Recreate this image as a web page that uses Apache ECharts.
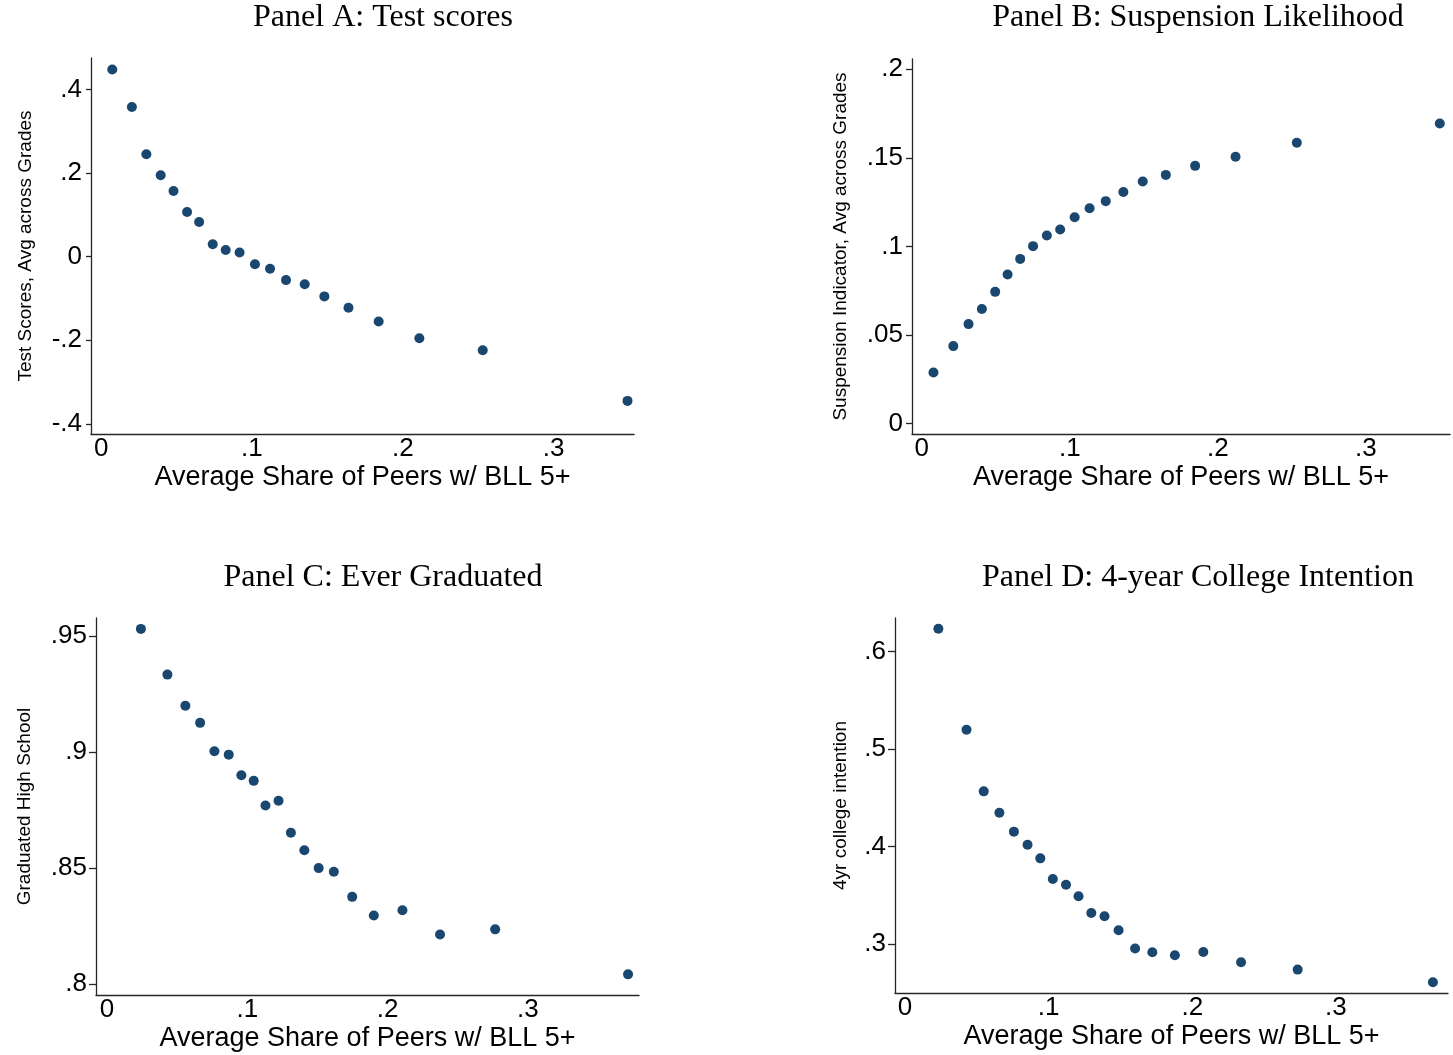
<!DOCTYPE html>
<html>
<head>
<meta charset="utf-8">
<title>Peer lead exposure and student outcomes</title>
<script src="https://cdn.jsdelivr.net/npm/echarts@6/dist/echarts.min.js"></script>
<style>
  html, body { margin: 0; padding: 0; background: #ffffff; }
  #chart { width: 1453px; height: 1055px; }
</style>
</head>
<body>
<div id="chart"></div>
<script>
// Binned scatter data: average share of peers with BLL 5+ (x) vs outcome (y)

// Panel A: Test scores
const testX = [0.0074, 0.0204, 0.0300, 0.0395, 0.0480, 0.0570, 0.0650, 0.0740, 0.0826, 0.0918,
               0.1020, 0.1120, 0.1226, 0.1350, 0.1480, 0.1640, 0.1840, 0.2110, 0.2530, 0.3490];
const testY = [0.448, 0.358, 0.245, 0.195, 0.157, 0.107, 0.083, 0.030, 0.016, 0.010,
               -0.018, -0.029, -0.056, -0.066, -0.095, -0.122, -0.155, -0.195, -0.224, -0.345];

// Panel B: Suspension likelihood
const suspX = [0.0079, 0.0213, 0.0316, 0.0406, 0.0496, 0.0580, 0.0665, 0.0752, 0.0845, 0.0935,
               0.1033, 0.1134, 0.1243, 0.1362, 0.1493, 0.1649, 0.1847, 0.2120, 0.2534, 0.3500];
const suspY = [0.0289, 0.0438, 0.0562, 0.0647, 0.0744, 0.0842, 0.0930, 0.1002, 0.1062, 0.1096,
               0.1165, 0.1216, 0.1256, 0.1308, 0.1367, 0.1404, 0.1455, 0.1506, 0.1585, 0.1694];

// Panel C: Ever graduated
const gradX = [0.0242, 0.0431, 0.0559, 0.0664, 0.0766, 0.0868, 0.0958, 0.1046, 0.1130, 0.1223,
               0.1311, 0.1407, 0.1509, 0.1617, 0.1748, 0.1902, 0.2106, 0.2374, 0.2767, 0.3714];
const gradY = [0.9532, 0.9335, 0.9201, 0.9127, 0.9005, 0.8990, 0.8901, 0.8877, 0.8771, 0.8791,
               0.8653, 0.8578, 0.8501, 0.8485, 0.8377, 0.8297, 0.8319, 0.8215, 0.8237, 0.8043];

// Panel D: 4-year college intention
const collX = [0.0232, 0.0428, 0.0548, 0.0657, 0.0758, 0.0853, 0.0942, 0.1029, 0.1121, 0.1208,
               0.1297, 0.1389, 0.1487, 0.1602, 0.1722, 0.1879, 0.2077, 0.2340, 0.2734, 0.3676];
const collY = [0.6232, 0.5197, 0.4565, 0.4346, 0.4152, 0.4018, 0.3878, 0.3667, 0.3608, 0.3489,
               0.3318, 0.3284, 0.3140, 0.2953, 0.2915, 0.2884, 0.2918, 0.2812, 0.2737, 0.2608];

// Tick values and their labels
const xTicks = [0, 0.1, 0.2, 0.3];
const xTickLabels = ['0', '.1', '.2', '.3'];
const yTicksA = [-0.4, -0.2, 0, 0.2, 0.4];
const yTickLabelsA = ['-.4', '-.2', '0', '.2', '.4'];
const yTicksB = [0, 0.05, 0.1, 0.15, 0.2];
const yTickLabelsB = ['0', '.05', '.1', '.15', '.2'];
const yTicksC = [0.8, 0.85, 0.9, 0.95];
const yTickLabelsC = ['.8', '.85', '.9', '.95'];
const yTicksD = [0.3, 0.4, 0.5, 0.6];
const yTickLabelsD = ['.3', '.4', '.5', '.6'];

// Titles
const panelTitles = ['Panel A: Test scores', 'Panel B: Suspension Likelihood',
                     'Panel C: Ever Graduated', 'Panel D: 4-year College Intention'];
const xTitle = 'Average Share of Peers w/ BLL 5+';
const yTitles = ['Test Scores, Avg across Grades', 'Suspension Indicator, Avg across Grades',
                 'Graduated High School', '4yr college intention'];

const SANS = '"Liberation Sans", Arial, sans-serif';
const SERIF = '"Liberation Serif", "Times New Roman", serif';
const NAVY = '#1a476f';
const AXIS_COLOR = '#262626';

function labelFor(ticks, labels) {
  return function (v) {
    for (let i = 0; i < ticks.length; i++) {
      if (Math.abs(ticks[i] - v) < 1e-9) return labels[i];
    }
    return '';
  };
}

function pairs(xs, ys) {
  return xs.map((x, i) => [x, ys[i]]);
}

// Panel layout: plot boxes, axis ranges, name gaps
const panels = [
  { grid: { left: 91, top: 58, width: 543, height: 376 },
    x: [-0.0067, 0.3533], y: [-0.4242, 0.4754],
    yTicks: yTicksA, yLabels: yTickLabelsA, yGap: 56, tickLen: 5, data: pairs(testX, testY),
    titleX: 383, titleY: 2 },
  { grid: { left: 912, top: 59, width: 538, height: 375 },
    x: [-0.0066, 0.3569], y: [-0.0058, 0.2058],
    yTicks: yTicksB, yLabels: yTickLabelsB, yGap: 62, tickLen: 6, data: pairs(suspX, suspY),
    titleX: 1198, titleY: 2 },
  { grid: { left: 96, top: 618, width: 543, height: 377 },
    x: [-0.0078, 0.3792], y: [0.7954, 0.9579],
    yTicks: yTicksC, yLabels: yTickLabelsC, yGap: 62, tickLen: 7, data: pairs(gradX, gradY),
    titleX: 383, titleY: 562 },
  { grid: { left: 895, top: 618, width: 553, height: 375 },
    x: [-0.0070, 0.3781], y: [0.2497, 0.6343],
    yTicks: yTicksD, yLabels: yTickLabelsD, yGap: 45, tickLen: 7, data: pairs(collX, collY),
    titleX: 1198, titleY: 562 }
];

const option = {
  backgroundColor: '#ffffff',
  animation: false,
  title: panels.map((p, i) => ({
    text: panelTitles[i],
    left: p.titleX,
    top: p.titleY,
    textAlign: 'center',
    padding: 0,
    textStyle: { fontFamily: SERIF, fontSize: 32, fontWeight: 'normal', color: '#000' }
  })),
  grid: panels.map(p => Object.assign({ containLabel: false }, p.grid)),
  xAxis: panels.map((p, i) => ({
    type: 'value',
    gridIndex: i,
    min: p.x[0],
    max: p.x[1],
    name: xTitle,
    nameLocation: 'middle',
    nameGap: 30,
    nameTextStyle: { fontFamily: SANS, fontSize: 27, color: '#000' },
    axisLine: { show: true, onZero: false, lineStyle: { color: AXIS_COLOR, width: 1.3 } },
    axisTick: { show: false },
    splitLine: { show: false },
    axisLabel: {
      customValues: xTicks,
      formatter: labelFor(xTicks, xTickLabels),
      margin: 2,
      fontFamily: SANS, fontSize: 26, color: '#000'
    }
  })),
  yAxis: panels.map((p, i) => ({
    type: 'value',
    gridIndex: i,
    min: p.y[0],
    max: p.y[1],
    name: yTitles[i],
    nameLocation: 'middle',
    nameRotate: 90,
    nameGap: p.yGap,
    nameTextStyle: { fontFamily: SANS, fontSize: 19, color: '#000' },
    axisLine: { show: true, onZero: false, lineStyle: { color: AXIS_COLOR, width: 1.3 } },
    axisTick: { show: true, customValues: p.yTicks, length: p.tickLen,
                lineStyle: { color: AXIS_COLOR, width: 1.3 } },
    splitLine: { show: false },
    axisLabel: {
      customValues: p.yTicks,
      formatter: labelFor(p.yTicks, p.yLabels),
      margin: 9,
      fontFamily: SANS, fontSize: 26, color: '#000'
    }
  })),
  series: panels.map((p, i) => ({
    type: 'scatter',
    xAxisIndex: i,
    yAxisIndex: i,
    data: p.data,
    symbol: 'circle',
    symbolSize: 10,
    itemStyle: { color: NAVY, opacity: 1 }
  }))
};

const chart = echarts.init(document.getElementById('chart'), null, { renderer: 'canvas' });
chart.setOption(option);
</script>
</body>
</html>
